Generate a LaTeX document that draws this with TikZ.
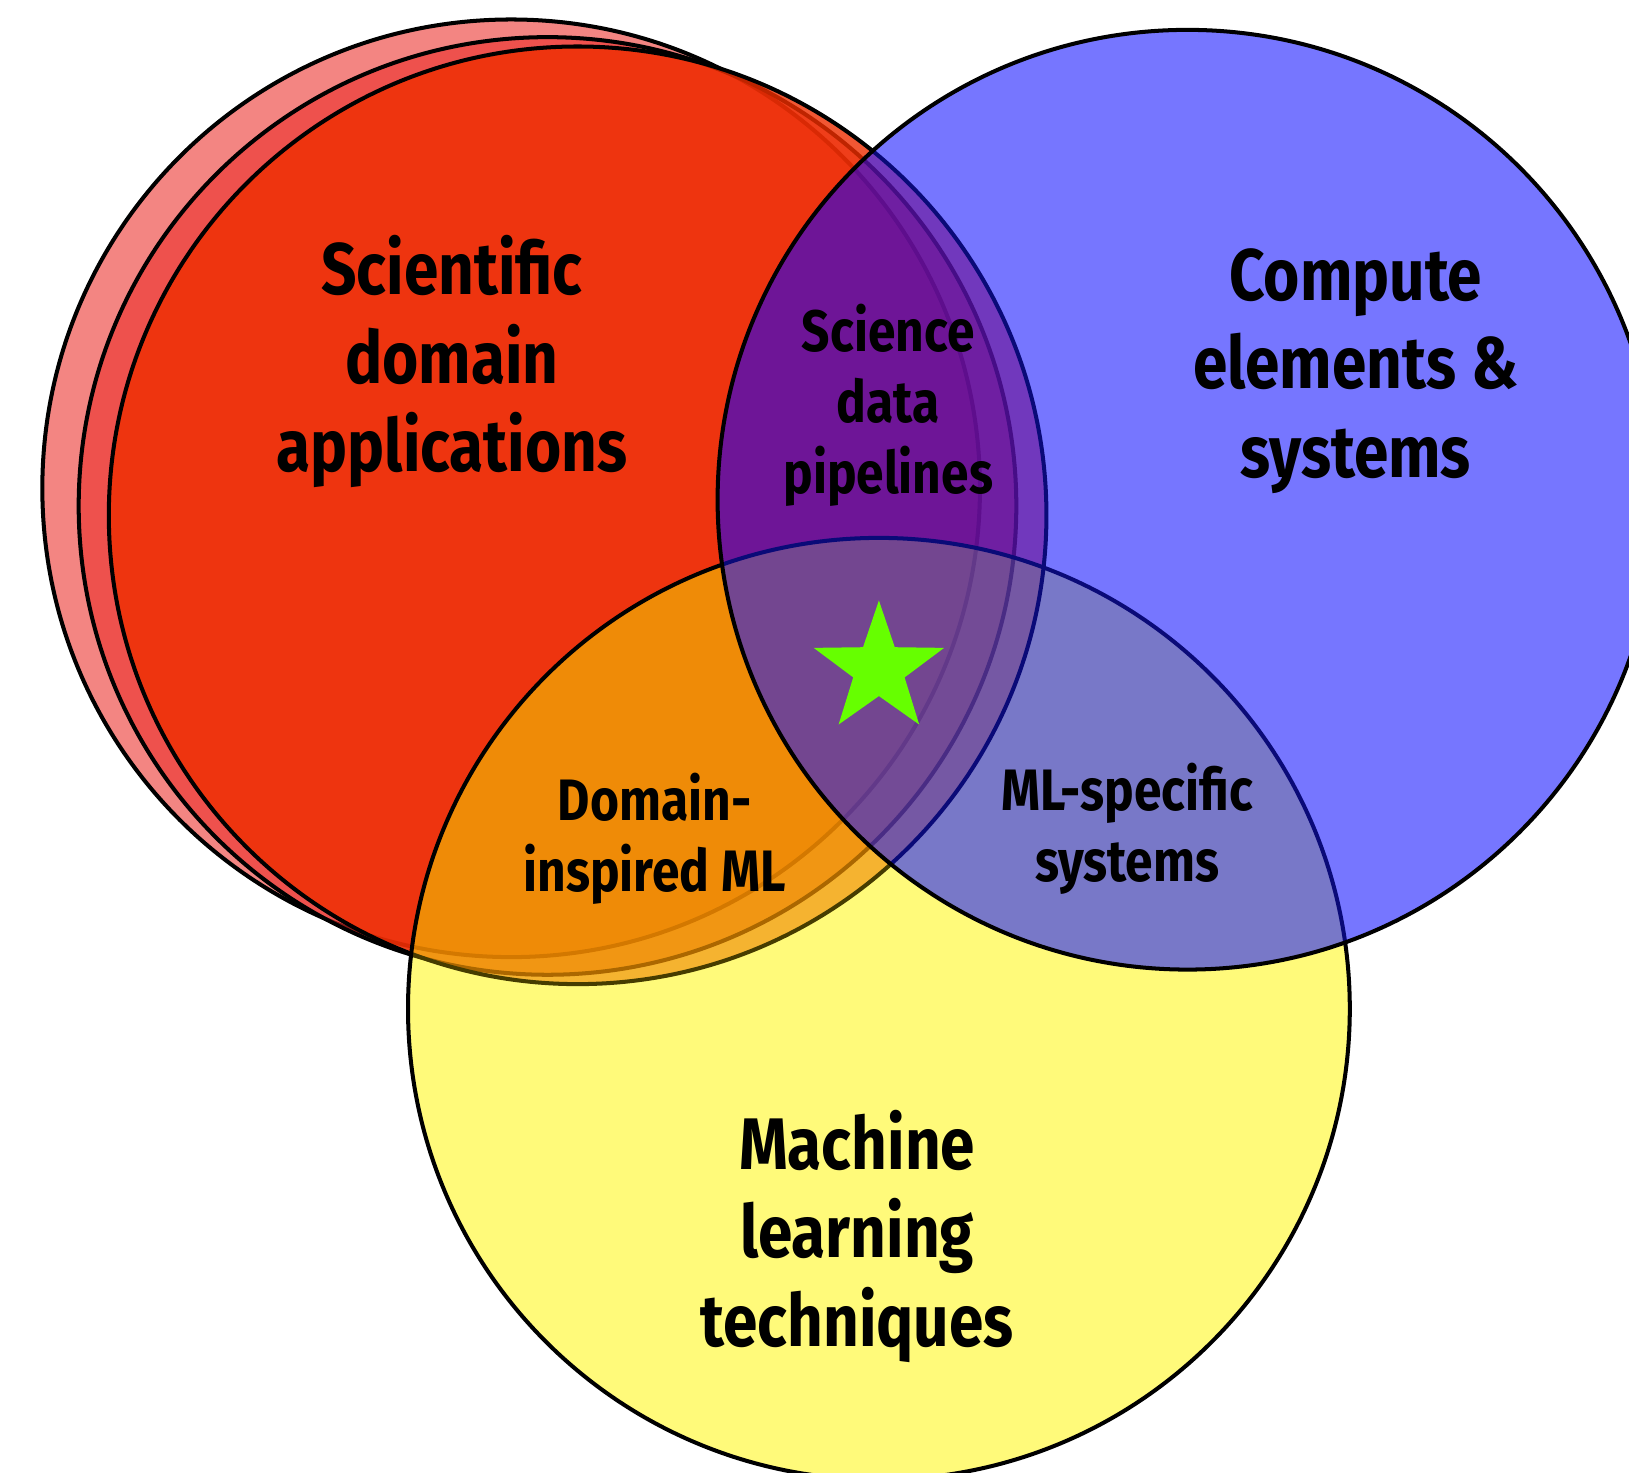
\documentclass[tikz,border=0pt]{standalone}
\usepackage{fontspec}
\usetikzlibrary{calc}
\setmainfont{Fira Sans}[FakeStretch=0.85]
\definecolor{redback}{RGB}{235,45,40}
\definecolor{redlay}{RGB}{238,45,0}
\definecolor{bluebase}{RGB}{118,118,255}
\definecolor{bluelay}{RGB}{110,15,145}
\definecolor{yelbase}{RGB}{255,250,122}
\definecolor{yellay}{RGB}{239,132,0}
\definecolor{bybase}{RGB}{120,120,200}
\definecolor{cenlay}{RGB}{115,67,141}
\definecolor{navyline}{RGB}{10,10,120}
\definecolor{oliveline}{RGB}{70,60,0}
\definecolor{stargreen}{RGB}{102,255,0}
% #1 back colour, #2 back opacity, #3 front colour, #4 front opacity, #5 outline colour
\newcommand\redstack[5]{%
  \foreach \cc in {rb,rm} {%
    \fill[#1, fill opacity=#2] (\cc) circle[radius=4.51cm];
    \draw[#5, line width=1.1pt] (\cc) circle[radius=4.51cm];
  }%
  \fill[#3, fill opacity=#4] (rf) circle[radius=4.51cm];
  \draw[#5, line width=1.1pt] (rf) circle[radius=4.51cm];
}
\begin{document}
\begin{tikzpicture}[x=0.01cm,y=-0.01cm, line join=round,
  lab/.style={align=center, font=\bfseries\fontsize{20}{24.2}\selectfont, text=black, inner sep=0pt},
  sublab/.style={align=center, font=\bfseries\fontsize{16}{19.4}\selectfont, text=black, inner sep=0pt}]
\useasboundingbox (0,0) rectangle (1568,1417);
\fill[white] (0,0) rectangle (1568,1417);
\clip (0,0) rectangle (1568,1417);
\coordinate (rb) at (492,470);
\coordinate (rm) at (527,487);
\coordinate (rf) at (556,496);
\coordinate (bc) at (1143,481);
\coordinate (yc) at (846,971);
% 1 red stack over white
\redstack{redback}{0.58}{redlay}{0.8}{black}
% 2 yellow
\begin{scope}
  \clip (yc) circle[radius=4.53cm];
  \fill[yelbase] (yc) circle[radius=4.53cm];
  \redstack{yellay}{0.6}{yellay}{0.6}{oliveline}
\end{scope}
\draw[black, line width=1.1pt] (yc) circle[radius=4.53cm];
% 3 blue
\begin{scope}
  \clip (bc) circle[radius=4.52cm];
  \fill[bluebase] (bc) circle[radius=4.52cm];
  \redstack{bluelay}{0.6}{bluelay}{0.6}{navyline}
\end{scope}
% 4 blue and yellow
\begin{scope}
  \clip (bc) circle[radius=4.52cm];
  \clip (yc) circle[radius=4.53cm];
  \fill[bybase] (yc) circle[radius=4.53cm];
  \redstack{cenlay}{0.6}{cenlay}{0.6}{navyline}
\end{scope}
% 5 yellow outline inside blue
\begin{scope}
  \clip (bc) circle[radius=4.52cm];
  \draw[navyline, line width=1.1pt] (yc) circle[radius=4.53cm];
\end{scope}
% 6 blue outline
\draw[black, line width=1.1pt] (bc) circle[radius=4.52cm];
% star
\coordinate (sc) at (846,644);
\fill[stargreen] ($(sc)+(-90:66)$)
  \foreach \k in {1,...,9} {
    -- ($(sc)+({-90+36*\k}:{ifthenelse(mod(\k,2)==1,26,66)})$)
  } -- cycle;
% labels
\node[lab] (sci) at (435,348) {Scientific\\domain\\applications};
\node[lab] (comp) at (1305,357) {Compute\\elements \&\\systems};
\node[lab] (mach) at (825,1190) {Machine\\learning\\techniques};
\node[sublab] (pipe) at (855,390) {Science\\data\\pipelines};
\node[sublab] (dom) at (630,807) {Domain-\\inspired ML};
\node[sublab] (mlsys) at (1085,798) {ML-specific\\systems};
\end{tikzpicture}
\end{document}
